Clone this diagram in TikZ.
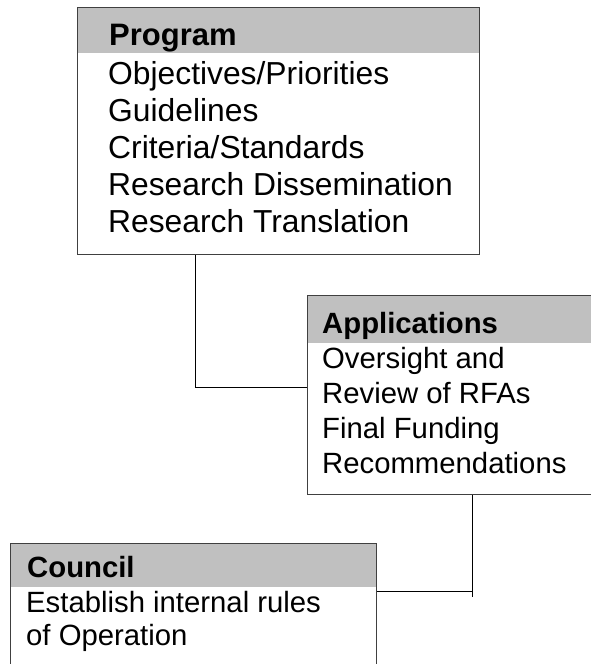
\documentclass[tikz,border=0pt]{standalone}
\usepackage{fontspec}
\setmainfont{Liberation Sans}
\definecolor{headgray}{HTML}{C0C0C0}
\definecolor{frame}{HTML}{404040}
\begin{document}
\begin{tikzpicture}[x=1pt,y=-1pt,
  header/.style={fill=headgray, draw=none, inner sep=0pt, anchor=north west},
  boxframe/.style={draw=frame, line width=1pt, inner sep=0pt, anchor=north west},
  bigtitle/.style={anchor=base west, inner sep=0pt, font=\bfseries\fontsize{31}{37}\selectfont},
  bigline/.style={anchor=base west, inner sep=0pt, font=\fontsize{31.8}{37}\selectfont},
  title/.style={anchor=base west, inner sep=0pt, font=\bfseries\fontsize{29.3}{35}\selectfont},
  line/.style={anchor=base west, inner sep=0pt, font=\fontsize{29.3}{35}\selectfont},
  conn/.style={draw=black, line width=1pt}]
\useasboundingbox (0,0) rectangle (590,664);
% Program
\node[header, minimum width=402pt, minimum height=46pt] (proghead) at (77,7) {};
\node[boxframe, minimum width=402pt, minimum height=247pt] (prog) at (77,7) {};
\node[bigtitle] (progtitle) at (109,45) {Program};
\node[bigline] (pl1) at (108,84) {Objectives/Priorities};
\node[bigline] (pl2) at (108,121) {Guidelines};
\node[bigline] (pl3) at (108,158) {Criteria/Standards};
\node[bigline] (pl4) at (108,195) {Research Dissemination};
\node[bigline] (pl5) at (108,232) {Research Translation};
% Applications
\node[header, minimum width=290pt, minimum height=48pt] (apphead) at (307,295) {};
\node[boxframe, minimum width=290pt, minimum height=199pt] (app) at (307,295) {};
\node[title] (apptitle) at (322,333) {Applications};
\node[line] (al1) at (322,368) {Oversight and};
\node[line] (al2) at (322,403) {Review of RFAs};
\node[line] (al3) at (322,438) {Final Funding};
\node[line] (al4) at (322,473) {Recommendations};
% Council
\node[header, minimum width=366pt, minimum height=44pt] (counhead) at (10,543) {};
\node[boxframe, minimum width=366pt, minimum height=140pt] (coun) at (10,543) {};
\node[title] (countitle) at (27,577) {Council};
\node[line] (cl1) at (26,612) {Establish internal rules};
\node[line] (cl2) at (26,645) {of Operation};
% connectors
\coordinate (c1) at (195,387);
\coordinate (c2) at (472,591);
\coordinate (c2end) at (472,597);
\draw[conn] (prog.south -| c1) -- (c1) -- (app.west |- c1);
\draw[conn] (app.south -| c2) -- (c2end);
\draw[conn] (coun.east |- c2) -- (c2);
\end{tikzpicture}
\end{document}
